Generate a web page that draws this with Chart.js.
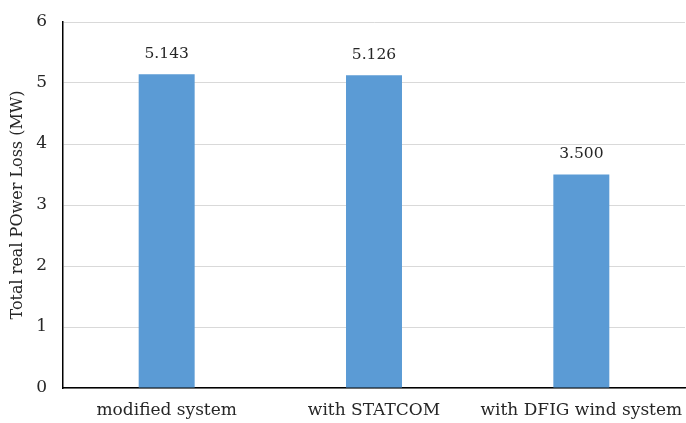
<!DOCTYPE html>
<html>
<head>
<meta charset="utf-8">
<script src="https://cdn.jsdelivr.net/npm/chart.js@4/dist/chart.umd.min.js"></script>
<style>
html,body{margin:0;padding:0;background:#fff;}
#wrap{width:686px;height:423px;}
</style>
</head>
<body>
<div id="wrap"><canvas id="c" width="686" height="423"></canvas></div>
<script>
const categories = ["modified system", "with STATCOM", "with DFIG wind system"];
const lossValues = [5.143, 5.126, 3.500];
const valueLabels = ["5.143", "5.126", "3.500"];
const yTicks = [0, 1, 2, 3, 4, 5, 6];

const FONT = "'DejaVu Serif', 'Liberation Serif', serif";

const dataLabelPlugin = {
  id: 'dataLabels',
  afterDatasetsDraw(chart) {
    const ctx = chart.ctx;
    const meta = chart.getDatasetMeta(0);
    ctx.save();
    ctx.font = "15.5px " + FONT;
    ctx.fillStyle = "#262626";
    ctx.textAlign = "center";
    ctx.textBaseline = "bottom";
    meta.data.forEach((bar, i) => {
      ctx.fillText(valueLabels[i], bar.x, bar.y - 13);
    });
    ctx.restore();
  }
};

new Chart(document.getElementById('c'), {
  type: 'bar',
  data: {
    labels: categories,
    datasets: [{
      data: lossValues,
      backgroundColor: '#5B9BD5',
      borderWidth: 0,
      categoryPercentage: 1,
      barPercentage: 0.27
    }]
  },
  options: {
    responsive: false,
    animation: false,
    layout: { padding: { top: 22, right: 1, left: 0, bottom: 0 } },
    plugins: { legend: { display: false }, tooltip: { enabled: false } },
    scales: {
      x: {
        grid: { display: false, drawTicks: false },
        border: { display: true, color: '#000', width: 1.5 },
        ticks: { color: '#262626', font: { family: FONT, size: 17 }, padding: 12, maxRotation: 0 },
        afterFit(s) { s.height = 35; s.paddingLeft = 0; s.paddingRight = 0; }
      },
      y: {
        min: 0, max: 6,
        afterBuildTicks(s) { s.ticks = yTicks.map(v => ({ value: v })); },
        grid: { color: '#d9d9d9', drawTicks: false },
        border: { display: true, color: '#000', width: 1.5 },
        ticks: { color: '#262626', font: { family: FONT, size: 17 }, padding: 16 },
        title: { display: true, text: 'Total real POwer Loss (MW)', color: '#262626', font: { family: FONT, size: 16 }, padding: { top: 8, bottom: 0 } },
        afterFit(s) { s.width = 63; s.paddingTop = 0; s.paddingBottom = 0; }
      }
    }
  },
  plugins: [dataLabelPlugin]
});
</script>
</body>
</html>
